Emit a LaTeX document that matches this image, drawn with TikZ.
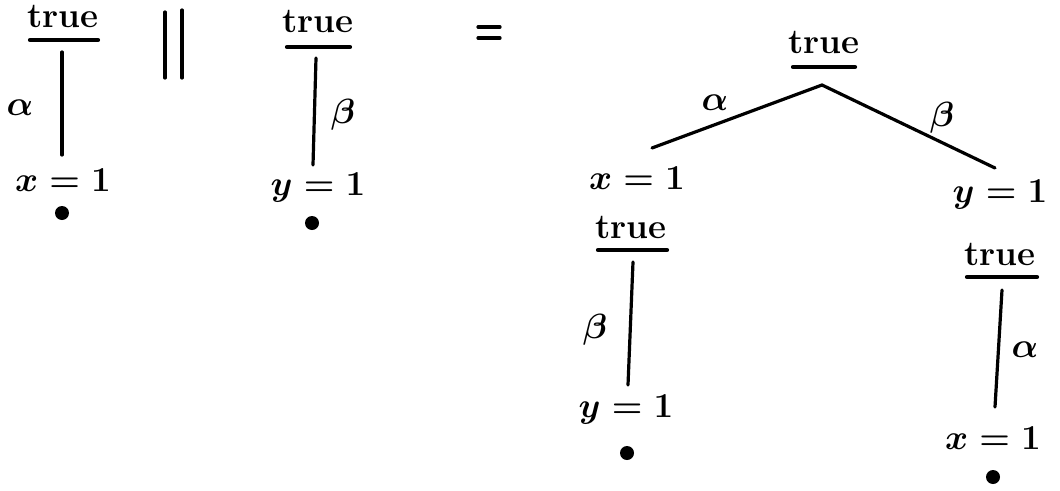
\RequirePackage{fix-cm}
\documentclass[tikz,border=0pt]{standalone}
\usepackage{amsmath}
\begin{document}
\begin{tikzpicture}[x=1pt,y=-1pt,
  every node/.style={font=\fontsize{35}{42}\selectfont\bfseries\boldmath, inner sep=0pt},
  edge/.style={line width=3.2pt, line cap=round},
  uline/.style={line width=4.2pt, line cap=round},
  leaf/.style={circle, fill=black, minimum size=14pt}]
\useasboundingbox (0,0) rectangle (1060,490);

% ---- first tree
\node (t1) at (63,16) {true};
\coordinate (u1a) at (30,40); \coordinate (u1b) at (98,40);
\draw[uline] (u1a) -- (u1b);
\coordinate (a1) at (62,52); \coordinate (b1) at (62,155);
\draw[edge] (a1) -- (b1);
\node (al1) at (20,108) {$\alpha$};
\node (x1) at (63,180) {$x=1$};
\node[leaf] (d1) at (62,213) {};

% ---- parallel bars
\coordinate (p1a) at (165,12); \coordinate (p1b) at (165,78);
\coordinate (p2a) at (182,10); \coordinate (p2b) at (182,78);
\draw[edge] (p1a) -- (p1b);
\draw[edge] (p2a) -- (p2b);

% ---- second tree
\node (t2) at (318,21) {true};
\coordinate (u2a) at (287,47); \coordinate (u2b) at (350,47);
\draw[uline] (u2a) -- (u2b);
\coordinate (a2) at (316,58); \coordinate (b2) at (313,165);
\draw[edge] (a2) -- (b2);
\node (be2) at (343,115) {$\beta$};
\node (y2) at (318,188) {$y=1$};
\node[leaf] (d2) at (312,223) {};

% ---- equals
\coordinate (e1a) at (478,27); \coordinate (e1b) at (500,27);
\coordinate (e2a) at (478,38); \coordinate (e2b) at (500,38);
\draw[edge] (e1a) -- (e1b);
\draw[edge] (e2a) -- (e2b);

% ---- combined tree
\node (t3) at (824,42) {true};
\coordinate (u3a) at (793,67); \coordinate (u3b) at (855,67);
\draw[uline] (u3a) -- (u3b);
\coordinate (apex) at (822,85);
\coordinate (lend) at (652,148);
\coordinate (rend) at (995,168);
\draw[edge] (lend) -- (apex) -- (rend);
\node (al3) at (715,103) {$\alpha$};
\node (be3) at (942,118) {$\beta$};
\node (x3) at (637,178) {$x=1$};
\node (y3) at (1000,195) {$y=1$};

% left subtree
\node (t4) at (631,227) {true};
\coordinate (u4a) at (598,250); \coordinate (u4b) at (667,250);
\draw[uline] (u4a) -- (u4b);
\coordinate (a4) at (633,262); \coordinate (b4) at (628,385);
\draw[edge] (a4) -- (b4);
\node (be4) at (595,330) {$\beta$};
\node (y4) at (626,410) {$y=1$};
\node[leaf] (d4) at (627,453) {};

% right subtree
\node (t5) at (1000,254) {true};
\coordinate (u5a) at (967,277); \coordinate (u5b) at (1037,277);
\draw[uline] (u5a) -- (u5b);
\coordinate (a5) at (1002,290); \coordinate (b5) at (995,407);
\draw[edge] (a5) -- (b5);
\node (al5) at (1025,350) {$\alpha$};
\node (x5) at (993,438) {$x=1$};
\node[leaf] (d5) at (993,477) {};
\end{tikzpicture}
\end{document}
